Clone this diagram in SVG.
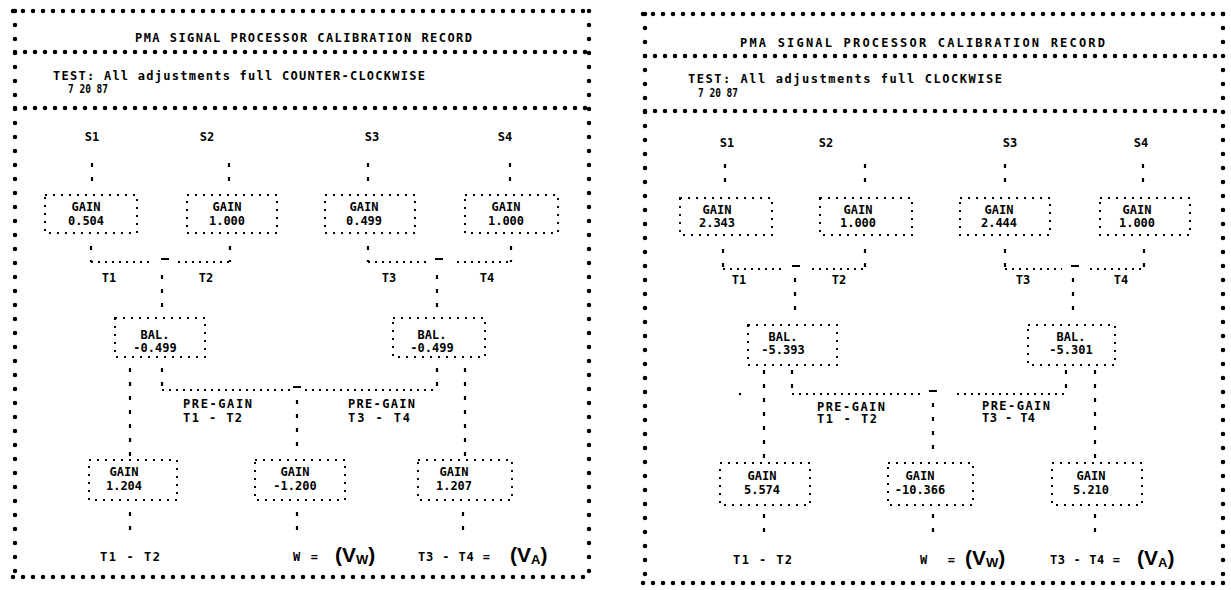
<svg xmlns="http://www.w3.org/2000/svg" width="1231" height="590" viewBox="0 0 1231 590">
<style>
.bd{stroke:#000;stroke-width:4.5;stroke-linecap:round;fill:none}
.bh{stroke-dasharray:0 10}
.bv{stroke-dasharray:0 14}
.box{fill:none;stroke:#000;stroke-width:2;stroke-dasharray:2 6}
.ch{stroke:#000;stroke-width:2.2;stroke-dasharray:2 5;fill:none}
.cv{stroke:#000;stroke-width:2.2;stroke-dasharray:4 10;fill:none}
.mn{stroke:#000;stroke-width:2}
.t{font-family:"DejaVu Sans Mono","Liberation Mono",monospace;font-weight:bold;font-size:12px;fill:#000}
.m{text-anchor:middle}
.big{font-family:"Liberation Sans",Arial,sans-serif;font-weight:bold;font-size:21px;fill:#000}
</style>
<rect width="1231" height="590" fill="#fff"/>

<!-- LEFT PANEL -->
<g id="left-frame">
<line class="bd bh" x1="13" y1="11" x2="593" y2="11"/>
<line class="bd bh" x1="15" y1="52" x2="590" y2="52"/>
<line class="bd bh" x1="15" y1="108" x2="590" y2="108"/>
<line class="bd bh" x1="13" y1="577" x2="593" y2="577"/>
<line class="bd bv" x1="15" y1="11" x2="15" y2="577"/>
<line class="bd bv" x1="589" y1="11" x2="589" y2="577"/>
<text class="t" x="135" y="42" textLength="337" lengthAdjust="spacing">PMA SIGNAL PROCESSOR CALIBRATION RECORD</text>
<text class="t" x="53" y="80" textLength="372" lengthAdjust="spacing">TEST: All adjustments full COUNTER-CLOCKWISE</text>
<text class="t" x="68" y="93" textLength="40" lengthAdjust="spacingAndGlyphs">7 20 87</text>
</g>

<g id="left-connectors">
<line class="cv" x1="92" y1="163" x2="92" y2="187"/>
<line class="cv" x1="229" y1="163" x2="229" y2="187"/>
<line class="cv" x1="368" y1="163" x2="368" y2="187"/>
<line class="cv" x1="510" y1="163" x2="510" y2="187"/>
<line class="cv" x1="91" y1="246" x2="91" y2="262"/>
<line class="cv" x1="230" y1="246" x2="230" y2="262"/>
<line class="cv" x1="368" y1="246" x2="368" y2="262"/>
<line class="cv" x1="511" y1="246" x2="511" y2="262"/>
<line class="ch" x1="91" y1="262" x2="153" y2="262"/>
<line class="ch" x1="178" y1="262" x2="231" y2="262"/>
<line class="mn" x1="161" y1="259" x2="169" y2="259"/>
<line class="ch" x1="368" y1="262" x2="427" y2="262"/>
<line class="ch" x1="457" y1="262" x2="512" y2="262"/>
<line class="mn" x1="435" y1="259" x2="443" y2="259"/>
<line class="cv" x1="162" y1="275" x2="162" y2="312"/>
<line class="cv" x1="437" y1="275" x2="437" y2="312"/>
<line class="cv" x1="130" y1="368" x2="130" y2="456"/>
<line class="cv" x1="162" y1="368" x2="162" y2="390"/>
<line class="cv" x1="437" y1="368" x2="437" y2="390"/>
<line class="cv" x1="465" y1="368" x2="465" y2="456"/>
<line class="ch" x1="162" y1="390" x2="290" y2="390"/>
<line class="ch" x1="305" y1="390" x2="438" y2="390"/>
<line class="mn" x1="293" y1="387" x2="301" y2="387"/>
<line class="cv" x1="297" y1="400" x2="297" y2="456"/>
<line class="cv" x1="130" y1="512" x2="130" y2="533"/>
<line class="cv" x1="297" y1="512" x2="297" y2="533"/>
<line class="cv" x1="463" y1="512" x2="463" y2="533"/>
</g>

<g id="L-S1"><text class="t m" x="92" y="141">S1</text></g>
<g id="L-S2"><text class="t m" x="207" y="141">S2</text></g>
<g id="L-S3"><text class="t m" x="372" y="141">S3</text></g>
<g id="L-S4"><text class="t m" x="505" y="141">S4</text></g>

<g id="L-gain1"><rect class="box" x="45" y="195" width="92" height="38"/><text class="t m" x="86" y="211">GAIN</text><text class="t m" x="86" y="225">0.504</text></g>
<g id="L-gain2"><rect class="box" x="187" y="195" width="90" height="38"/><text class="t m" x="227" y="211">GAIN</text><text class="t m" x="227" y="225">1.000</text></g>
<g id="L-gain3"><rect class="box" x="325" y="195" width="90" height="38"/><text class="t m" x="364" y="211">GAIN</text><text class="t m" x="364" y="225">0.499</text></g>
<g id="L-gain4"><rect class="box" x="465" y="195" width="93" height="38"/><text class="t m" x="506" y="211">GAIN</text><text class="t m" x="506" y="225">1.000</text></g>

<g id="L-T1"><text class="t m" x="109" y="282">T1</text></g>
<g id="L-T2"><text class="t m" x="206" y="282">T2</text></g>
<g id="L-T3"><text class="t m" x="389" y="282">T3</text></g>
<g id="L-T4"><text class="t m" x="487" y="282">T4</text></g>

<g id="L-bal1"><rect class="box" x="115" y="318" width="90" height="39"/><text class="t m" x="155" y="339">BAL.</text><text class="t m" x="155" y="352">-0.499</text></g>
<g id="L-bal2"><rect class="box" x="393" y="318" width="92" height="39"/><text class="t m" x="432" y="339">BAL.</text><text class="t m" x="432" y="352">-0.499</text></g>

<g id="L-pregain1"><text class="t" x="183" y="408" textLength="69" lengthAdjust="spacing">PRE-GAIN</text><text class="t" x="183" y="422" textLength="59" lengthAdjust="spacing">T1 - T2</text></g>
<g id="L-pregain2"><text class="t" x="348" y="408" textLength="67" lengthAdjust="spacing">PRE-GAIN</text><text class="t" x="348" y="422" textLength="62" lengthAdjust="spacing">T3 - T4</text></g>

<g id="L-gain5"><rect class="box" x="89" y="460" width="88" height="40"/><text class="t m" x="124" y="476">GAIN</text><text class="t m" x="124" y="490">1.204</text></g>
<g id="L-gain6"><rect class="box" x="255" y="460" width="90" height="40"/><text class="t m" x="295" y="476">GAIN</text><text class="t m" x="295" y="490">-1.200</text></g>
<g id="L-gain7"><rect class="box" x="418" y="460" width="94" height="40"/><text class="t m" x="454" y="476">GAIN</text><text class="t m" x="454" y="490">1.207</text></g>

<g id="L-out1"><text class="t" x="100" y="561" textLength="60" lengthAdjust="spacing">T1 - T2</text></g>
<g id="L-out2"><text class="t" x="293" y="561" textLength="25" lengthAdjust="spacing">W =</text><text class="big" x="335" y="562">(V<tspan font-size="13" dy="2">W</tspan><tspan dy="-2">)</tspan></text></g>
<g id="L-out3"><text class="t" x="418" y="561" textLength="72" lengthAdjust="spacing">T3 - T4 =</text><text class="big" x="510" y="562">(V<tspan font-size="13" dy="2">A</tspan><tspan dy="-2">)</tspan></text></g>

<!-- RIGHT PANEL -->
<g id="right-frame">
<line class="bd bh" x1="643" y1="14" x2="1228" y2="14"/>
<line class="bd bh" x1="645" y1="56" x2="1224" y2="56"/>
<line class="bd bh" x1="645" y1="111" x2="1224" y2="111"/>
<line class="bd bh" x1="643" y1="583" x2="1228" y2="583"/>
<line class="bd bv" x1="645" y1="14" x2="645" y2="583"/>
<line class="bd bv" x1="1223" y1="14" x2="1223" y2="583"/>
<text class="t" x="740" y="47" textLength="365" lengthAdjust="spacing">PMA SIGNAL PROCESSOR CALIBRATION RECORD</text>
<text class="t" x="688" y="83" textLength="314" lengthAdjust="spacing">TEST: All adjustments full CLOCKWISE</text>
<text class="t" x="698" y="97" textLength="40" lengthAdjust="spacingAndGlyphs">7 20 87</text>
</g>

<g id="right-connectors">
<line class="cv" x1="725" y1="164" x2="725" y2="188"/>
<line class="cv" x1="865" y1="164" x2="865" y2="188"/>
<line class="cv" x1="1005" y1="164" x2="1005" y2="188"/>
<line class="cv" x1="1143" y1="164" x2="1143" y2="188"/>
<line class="cv" x1="723" y1="249" x2="723" y2="269"/>
<line class="cv" x1="865" y1="249" x2="865" y2="269"/>
<line class="cv" x1="1005" y1="249" x2="1005" y2="269"/>
<line class="cv" x1="1144" y1="249" x2="1144" y2="269"/>
<line class="ch" x1="723" y1="269" x2="782" y2="269"/>
<line class="ch" x1="812" y1="269" x2="866" y2="269"/>
<line class="mn" x1="792" y1="266" x2="800" y2="266"/>
<line class="ch" x1="1005" y1="269" x2="1062" y2="269"/>
<line class="ch" x1="1090" y1="269" x2="1145" y2="269"/>
<line class="mn" x1="1071" y1="266" x2="1079" y2="266"/>
<line class="cv" x1="795" y1="278" x2="795" y2="315"/>
<line class="cv" x1="1073" y1="278" x2="1073" y2="315"/>
<line class="cv" x1="764" y1="370" x2="764" y2="459"/>
<line class="cv" x1="792" y1="370" x2="792" y2="394"/>
<line class="cv" x1="1066" y1="370" x2="1066" y2="394"/>
<line class="cv" x1="1095" y1="370" x2="1095" y2="459"/>
<line class="ch" x1="792" y1="394" x2="925" y2="394"/>
<line class="ch" x1="957" y1="394" x2="1067" y2="394"/>
<line class="mn" x1="929" y1="391" x2="937" y2="391"/>
<circle cx="740" cy="394" r="1.2" fill="#000"/>
<line class="cv" x1="933" y1="403" x2="933" y2="459"/>
<line class="cv" x1="764" y1="514" x2="764" y2="536"/>
<line class="cv" x1="933" y1="514" x2="933" y2="536"/>
<line class="cv" x1="1095" y1="514" x2="1095" y2="536"/>
</g>

<g id="R-S1"><text class="t m" x="727" y="147">S1</text></g>
<g id="R-S2"><text class="t m" x="826" y="147">S2</text></g>
<g id="R-S3"><text class="t m" x="1010" y="147">S3</text></g>
<g id="R-S4"><text class="t m" x="1141" y="147">S4</text></g>

<g id="R-gain1"><rect class="box" x="680" y="198" width="92" height="37"/><text class="t m" x="717" y="214">GAIN</text><text class="t m" x="717" y="227">2.343</text></g>
<g id="R-gain2"><rect class="box" x="820" y="198" width="92" height="37"/><text class="t m" x="858" y="214">GAIN</text><text class="t m" x="858" y="227">1.000</text></g>
<g id="R-gain3"><rect class="box" x="960" y="198" width="90" height="37"/><text class="t m" x="999" y="214">GAIN</text><text class="t m" x="999" y="227">2.444</text></g>
<g id="R-gain4"><rect class="box" x="1100" y="198" width="90" height="37"/><text class="t m" x="1137" y="214">GAIN</text><text class="t m" x="1137" y="227">1.000</text></g>

<g id="R-T1"><text class="t m" x="739" y="284">T1</text></g>
<g id="R-T2"><text class="t m" x="839" y="284">T2</text></g>
<g id="R-T3"><text class="t m" x="1023" y="284">T3</text></g>
<g id="R-T4"><text class="t m" x="1121" y="284">T4</text></g>

<g id="R-bal1"><rect class="box" x="748" y="325" width="89" height="40"/><text class="t m" x="783" y="341">BAL.</text><text class="t m" x="783" y="354">-5.393</text></g>
<g id="R-bal2"><rect class="box" x="1028" y="325" width="87" height="40"/><text class="t m" x="1071" y="341">BAL.</text><text class="t m" x="1071" y="354">-5.301</text></g>

<g id="R-pregain1"><text class="t" x="817" y="411" textLength="68" lengthAdjust="spacing">PRE-GAIN</text><text class="t" x="817" y="423" textLength="60" lengthAdjust="spacing">T1 - T2</text></g>
<g id="R-pregain2"><text class="t" x="982" y="410" textLength="68" lengthAdjust="spacing">PRE-GAIN</text><text class="t" x="982" y="422" textLength="53" lengthAdjust="spacing">T3 - T4</text></g>

<g id="R-gain5"><rect class="box" x="720" y="463" width="90" height="42"/><text class="t m" x="762" y="480">GAIN</text><text class="t m" x="762" y="494">5.574</text></g>
<g id="R-gain6"><rect class="box" x="888" y="463" width="85" height="42"/><text class="t m" x="920" y="480">GAIN</text><text class="t m" x="920" y="494">-10.366</text></g>
<g id="R-gain7"><rect class="box" x="1052" y="463" width="90" height="42"/><text class="t m" x="1091" y="480">GAIN</text><text class="t m" x="1091" y="494">5.210</text></g>

<g id="R-out1"><text class="t" x="733" y="564" textLength="59" lengthAdjust="spacing">T1 - T2</text></g>
<g id="R-out2"><text class="t" x="920" y="564" textLength="35" lengthAdjust="spacing">W =</text><text class="big" x="965" y="565">(V<tspan font-size="13" dy="2">W</tspan><tspan dy="-2">)</tspan></text></g>
<g id="R-out3"><text class="t" x="1050" y="564" textLength="70" lengthAdjust="spacing">T3 - T4 =</text><text class="big" x="1137" y="565">(V<tspan font-size="13" dy="2">A</tspan><tspan dy="-2">)</tspan></text></g>
</svg>
